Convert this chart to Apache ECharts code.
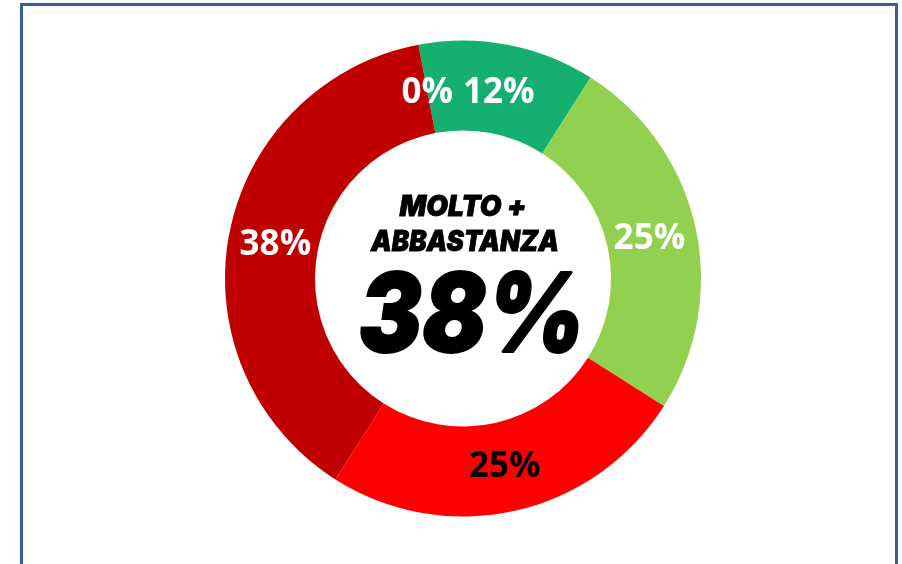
<!DOCTYPE html>
<html>
<head>
<meta charset="utf-8">
<title>Molto + Abbastanza</title>
<script src="https://cdn.jsdelivr.net/npm/echarts@6/dist/echarts.min.js"></script>
<style>
  html, body { margin: 0; padding: 0; background: #ffffff; }
  #chart { width: 902px; height: 564px; }
</style>
</head>
<body>
<div id="chart"></div>
<script>
// Answer categories and their shares (%)
const categories = ['Molto', 'Abbastanza', 'Poco', 'Per niente', 'Non so'];
const values = [12, 25, 25, 38, 0];
const sliceColors = ['#15b070', '#92d050', '#ff0000', '#c00000', '#c00000'];
const labelColors = ['#ffffff', '#ffffff', '#000000', '#ffffff', '#ffffff'];

// Headline in the hole of the ring
const headlineLines = ['MOLTO +', 'ABBASTANZA'];
const headlineValue = '38%';

const chart = echarts.init(document.getElementById('chart'), null, { renderer: 'canvas' });

const pieCenter = [463, 278.5];

const pieData = categories.map((name, i) => ({
  name: name,
  value: values[i],
  itemStyle: { color: sliceColors[i] },
  label: { color: labelColors[i] }
}));

const centerFont = 'Inter, Lato, sans-serif';

// Pull the in-ring labels a little toward the hole
function ringLabelLayout(params) {
  const r = params.labelRect;
  const cx = r.x + r.width / 2;
  const cy = r.y + r.height / 2;
  const dx = cx - pieCenter[0];
  const dy = cy - pieCenter[1];
  const d = Math.sqrt(dx * dx + dy * dy) || 1;
  const k = (d - 5) / d;
  return {
    x: pieCenter[0] + dx * k,
    y: pieCenter[1] + dy * k + 2
  };
}

chart.setOption({
  animation: false,
  backgroundColor: '#ffffff',
  graphic: [
    {
      type: 'rect',
      z: 100,
      shape: { x: 21.5, y: 4.5, width: 875, height: 620 },
      style: { fill: 'none', stroke: '#3a5b9c', lineWidth: 3 },
      silent: true
    },
    {
      type: 'text',
      z: 100,
      x: 463, y: 208,
      style: {
        text: headlineLines[0],
        font: 'italic 900 28px ' + centerFont,
        fill: '#000000',
        stroke: '#000000',
        lineWidth: 0.8,
        align: 'center',
        verticalAlign: 'middle'
      }
    },
    {
      type: 'text',
      z: 100,
      x: 465, y: 243,
      scaleX: 0.93,
      style: {
        text: headlineLines[1],
        font: 'italic 900 28px ' + centerFont,
        fill: '#000000',
        stroke: '#000000',
        lineWidth: 0.8,
        align: 'center',
        verticalAlign: 'middle'
      }
    },
    {
      type: 'text',
      z: 100,
      x: 472, y: 319,
      scaleX: 0.86,
      style: {
        text: headlineValue,
        font: 'italic 900 110px ' + centerFont,
        fill: '#000000',
        stroke: '#000000',
        lineWidth: 2,
        align: 'center',
        verticalAlign: 'middle'
      }
    }
  ],
  series: [
    {
      type: 'pie',
      z: 2,
      center: pieCenter,
      radius: [148, 238],
      startAngle: 100.8,
      clockwise: true,
      avoidLabelOverlap: false,
      minAngle: 0,
      emphasis: { disabled: true },
      itemStyle: { borderWidth: 0 },
      label: {
        show: true,
        position: 'inside',
        formatter: '{c}%',
        fontFamily: '"Open Sans", sans-serif',
        fontWeight: 700,
        fontSize: 35
      },
      labelLine: { show: false },
      labelLayout: ringLabelLayout,
      data: pieData
    }
  ]
});
</script>
</body>
</html>
